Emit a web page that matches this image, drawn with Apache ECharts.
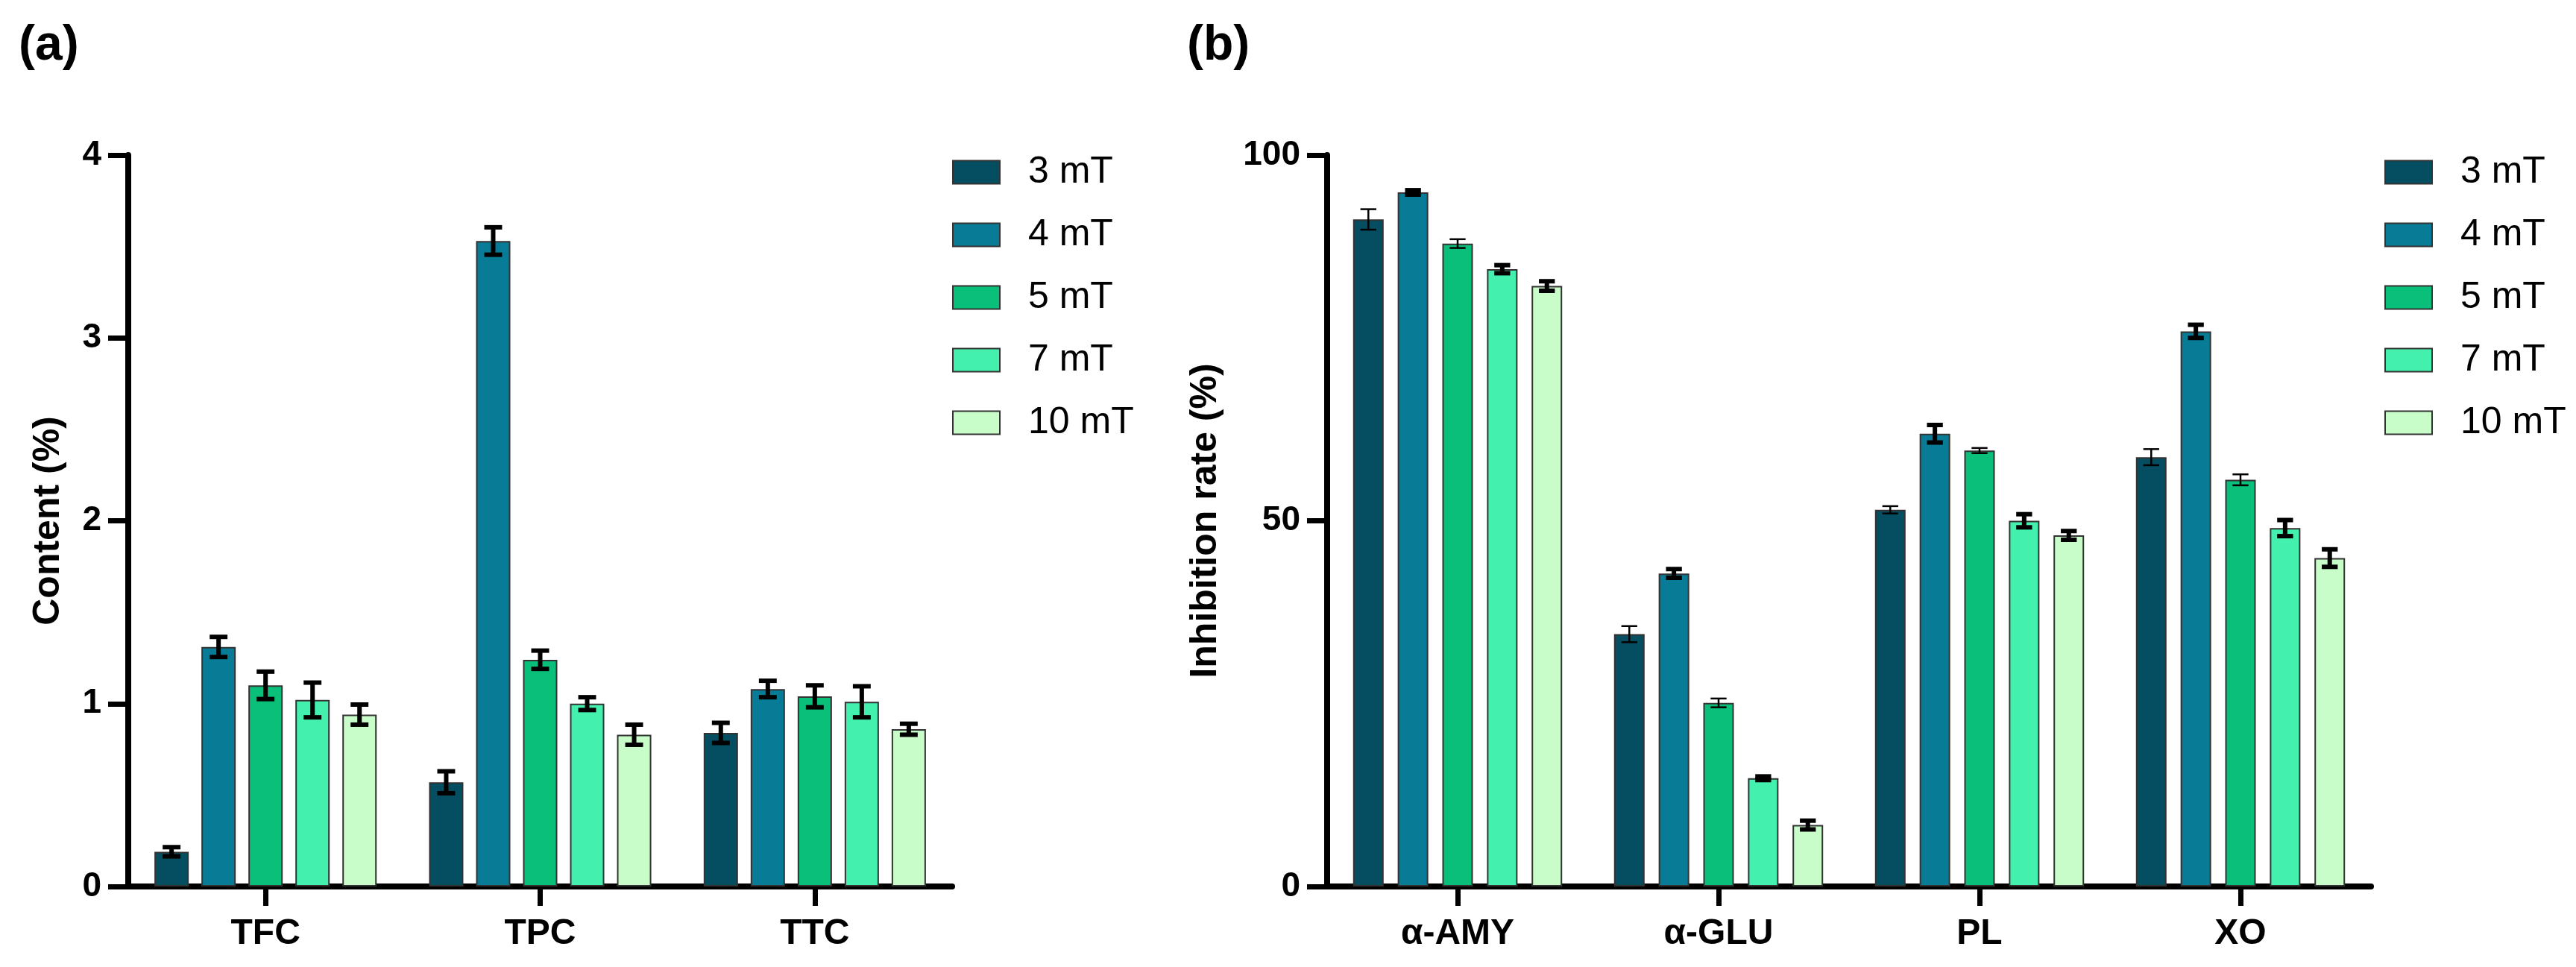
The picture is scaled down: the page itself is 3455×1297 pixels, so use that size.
<!DOCTYPE html>
<html>
<head>
<meta charset="utf-8">
<script src="https://cdn.jsdelivr.net/npm/echarts@6/dist/echarts.min.js"></script>
<style>
  html, body { margin: 0; padding: 0; background: #fff; }
  #chart { width: 3455px; height: 1297px; }
</style>
</head>
<body>
<div id="chart"></div>
<script>
// 图例 / 磁场强度
const fields = ['3 mT', '4 mT', '5 mT', '7 mT', '10 mT'];
const colors = ['#054e61', '#087c97', '#09bf79', '#44f0ae', '#c8fcc8'];

// (a) 含量
const contentCats = ['TFC', 'TPC', 'TTC'];
const content3 = [0.19, 0.57, 0.84];
const content4 = [1.31, 3.53, 1.08];
const content5 = [1.10, 1.24, 1.04];
const content7 = [1.02, 1.00, 1.01];
const content10 = [0.94, 0.83, 0.86];
const contentErr3 = [0.025, 0.06, 0.055];
const contentErr4 = [0.055, 0.075, 0.045];
const contentErr5 = [0.075, 0.05, 0.06];
const contentErr7 = [0.095, 0.035, 0.085];
const contentErr10 = [0.055, 0.055, 0.03];
const contentTicks = [0, 1, 2, 3, 4];

// (b) 抑制率
const inhibCats = ['α-AMY', 'α-GLU', 'PL', 'XO'];
const inhib3 = [91.2, 34.5, 51.5, 58.7];
const inhib4 = [94.9, 42.8, 61.9, 75.9];
const inhib5 = [87.9, 25.1, 59.6, 55.6];
const inhib7 = [84.4, 14.8, 50.0, 49.0];
const inhib10 = [82.1, 8.4, 48.0, 44.9];
const inhibErr3 = [1.4, 1.1, 0.5, 1.1];
const inhibErr4 = [0.3, 0.6, 1.2, 0.9];
const inhibErr5 = [0.6, 0.6, 0.35, 0.75];
const inhibErr7 = [0.55, 0.25, 0.9, 1.1];
const inhibErr10 = [0.65, 0.6, 0.6, 1.2];
const inhibTicks = [0, 50, 100];

const FONT = '"Liberation Sans", Arial, sans-serif';

const contentVals = [content3, content4, content5, content7, content10];
const contentErrs = [contentErr3, contentErr4, contentErr5, contentErr7, contentErr10];
const inhibVals = [inhib3, inhib4, inhib5, inhib7, inhib10];
const inhibErrs = [inhibErr3, inhibErr4, inhibErr5, inhibErr7, inhibErr10];

// 误差线
function errRender(idx, n, barW, gap, lw) {
  return function (params, api) {
    const x = api.value(0), v = api.value(1), e = api.value(2);
    const hi = api.coord([x, v + e]);
    const lo = api.coord([x, v - e]);
    const off = (idx - (n - 1) / 2) * barW * (1 + gap);
    const cx = hi[0] + off;
    const cap = barW * 0.26;
    const style = { stroke: '#000', lineWidth: lw };
    return {
      type: 'group',
      children: [
        { type: 'line', shape: { x1: cx, y1: hi[1], x2: cx, y2: lo[1] }, style },
        { type: 'line', shape: { x1: cx - cap, y1: hi[1], x2: cx + cap, y2: hi[1] }, style },
        { type: 'line', shape: { x1: cx - cap, y1: lo[1], x2: cx + cap, y2: lo[1] }, style }
      ]
    };
  };
}

function yAxis(gridIndex, name, max, interval, gap) {
  return {
    type: 'value', gridIndex: gridIndex, min: 0, max: max, interval: interval,
    name: name, nameLocation: 'middle', nameGap: gap,
    nameTextStyle: { fontFamily: FONT, fontSize: 50, fontWeight: 'bold', color: '#000' },
    axisLine: { show: true, lineStyle: { color: '#000', width: 8 } },
    axisTick: { show: true, length: 27, lineStyle: { color: '#000', width: 7 } },
    axisLabel: { margin: 36, fontFamily: FONT, fontSize: 46, fontWeight: 'bold', color: '#000' },
    splitLine: { show: false }
  };
}

function xAxis(gridIndex, cats) {
  return {
    type: 'category', gridIndex: gridIndex, data: cats,
    axisLine: { show: true, lineStyle: { color: '#000', width: 8 } },
    axisTick: { show: true, alignWithLabel: true, length: 26, lineStyle: { color: '#000', width: 7 } },
    axisLabel: { margin: 40, fontFamily: FONT, fontSize: 48, fontWeight: 'bold', color: '#000' }
  };
}

const series = [];
function addPanel(axisIdx, vals, errs, barW, gap, lws, tag) {
  vals.forEach((d, i) => {
    series.push({
      name: fields[i], type: 'bar', xAxisIndex: axisIdx, yAxisIndex: axisIdx,
      data: d, barWidth: barW, barGap: Math.round(gap * 100) + '%',
      itemStyle: { color: colors[i], borderColor: '#333', borderWidth: 2 }
    });
  });
  vals.forEach((d, i) => {
    series.push({
      name: tag + i, type: 'custom', xAxisIndex: axisIdx, yAxisIndex: axisIdx, z: 5,
      data: d.map((v, k) => [k, v, errs[i][k]]),
      renderItem: errRender(i, vals.length, barW, gap, lws[i]),
      silent: true
    });
  });
}
addPanel(0, contentVals, contentErrs, 46, 0.37, [6, 6, 6, 6, 6], 'errA');
addPanel(1, inhibVals, inhibErrs, 41, 0.46, [2.5, 6, 2.5, 6, 6], 'errB');

function legend(left) {
  return {
    data: fields, orient: 'vertical', left: left, top: 201,
    itemWidth: 63, itemHeight: 31, itemGap: 34, icon: 'rect',
    itemStyle: { borderColor: '#333', borderWidth: 2 },
    textStyle: { fontFamily: FONT, fontSize: 50, color: '#000', lineHeight: 50, padding: [0, 0, 0, 33] }
  };
}

const chart = echarts.init(document.getElementById('chart'));
chart.setOption({
  animation: false,
  color: colors,
  title: [
    { text: '(a)', left: 20, top: 24, textStyle: { fontFamily: FONT, fontSize: 66, fontWeight: 'bold', color: '#000' } },
    { text: '(b)', left: 1587, top: 24, textStyle: { fontFamily: FONT, fontSize: 66, fontWeight: 'bold', color: '#000' } }
  ],
  legend: [legend(1272), legend(3193)],
  grid: [
    { left: 172, top: 208, width: 1105, bottom: 108 },
    { left: 1780, top: 208, width: 1400, bottom: 108 }
  ],
  xAxis: [xAxis(0, contentCats), xAxis(1, inhibCats)],
  yAxis: [
    yAxis(0, 'Content (%)', contentTicks[contentTicks.length - 1], contentTicks[1] - contentTicks[0], 82),
    yAxis(1, 'Inhibition rate (%)', inhibTicks[inhibTicks.length - 1], inhibTicks[1] - inhibTicks[0], 138)
  ],
  series: series
});
</script>
</body>
</html>
